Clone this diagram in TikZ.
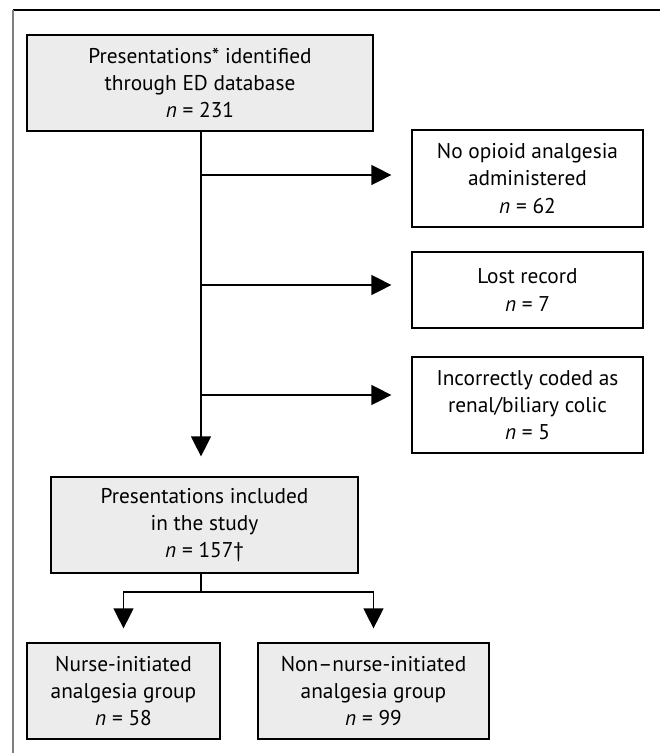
\documentclass[tikz,border=0pt]{standalone}
\usepackage{fontspec}
\setmainfont{PT Sans}
\usepackage{tikz}
\usetikzlibrary{arrows.meta,calc}

\tikzset{
	greybox/.style={draw,line width=0.9pt,fill=gray!15,align=center,inner sep=0pt,font=\fontsize{16}{20.5}\selectfont},
	whitebox/.style={greybox,fill=white},
	flow/.style={line width=0.9pt,-{Triangle[length=15pt,width=15pt]}}
}

\begin{document}
\begin{tikzpicture}[x=0.75pt,y=-0.75pt]
		\useasboundingbox (0,0) rectangle (660,753);
		\draw[line width=0.9pt] (13,10) -- (660,10);
		\draw[gray,line width=0.9pt] (13,10) -- (13,753);
		\node[greybox,minimum width=346*0.75pt,minimum height=96*0.75pt] (ident) at (200,83) {Presentations* identified\\through ED database\\\textit{n} = 231};
		\node[whitebox,minimum width=231*0.75pt,minimum height=97*0.75pt] (noop) at (527.5,178.5) {No opioid analgesia\\administered\\\textit{n} = 62};
		\node[whitebox,minimum width=231*0.75pt,minimum height=76*0.75pt] (lost) at (527.5,290) {Lost record\\\textit{n} = 7};
		\node[whitebox,minimum width=231*0.75pt,minimum height=96*0.75pt] (wrong) at (527.5,405) {Incorrectly coded as\\renal/biliary colic\\\textit{n} = 5};
		\node[greybox,minimum width=307*0.75pt,minimum height=96*0.75pt] (incl) at (204.5,525) {Presentations included\\in the study\\\textit{n} = 157†};
		\node[greybox,minimum width=193*0.75pt,minimum height=96*0.75pt] (nurse) at (123.5,691) {Nurse-initiated\\analgesia group\\\textit{n} = 58};
		\node[greybox,minimum width=231*0.75pt,minimum height=96*0.75pt] (other) at (373.5,691) {Non–nurse-initiated\\analgesia group\\\textit{n} = 99};
		\coordinate (trunk) at ($(ident.south)+(1,0)$);
		\draw[flow,shorten >=15pt] (trunk) -- (trunk |- incl.north);
		\draw[flow,shorten >=15pt] (trunk |- 0,175) -- (noop.west |- 0,175);
		\draw[flow,shorten >=15pt] (trunk |- 0,285) -- (lost.west |- 0,285);
		\draw[flow,shorten >=15pt] (trunk |- 0,395) -- (wrong.west |- 0,395);
		\draw[line width=0.9pt] (trunk |- incl.south) -- (trunk |- 0,592);
		\draw[flow,shorten >=10.5pt] (trunk |- 0,592) -| (nurse.north);
		\draw[flow,shorten >=10.5pt] (trunk |- 0,592) -| (other.north);
	\end{tikzpicture}
\end{document}
